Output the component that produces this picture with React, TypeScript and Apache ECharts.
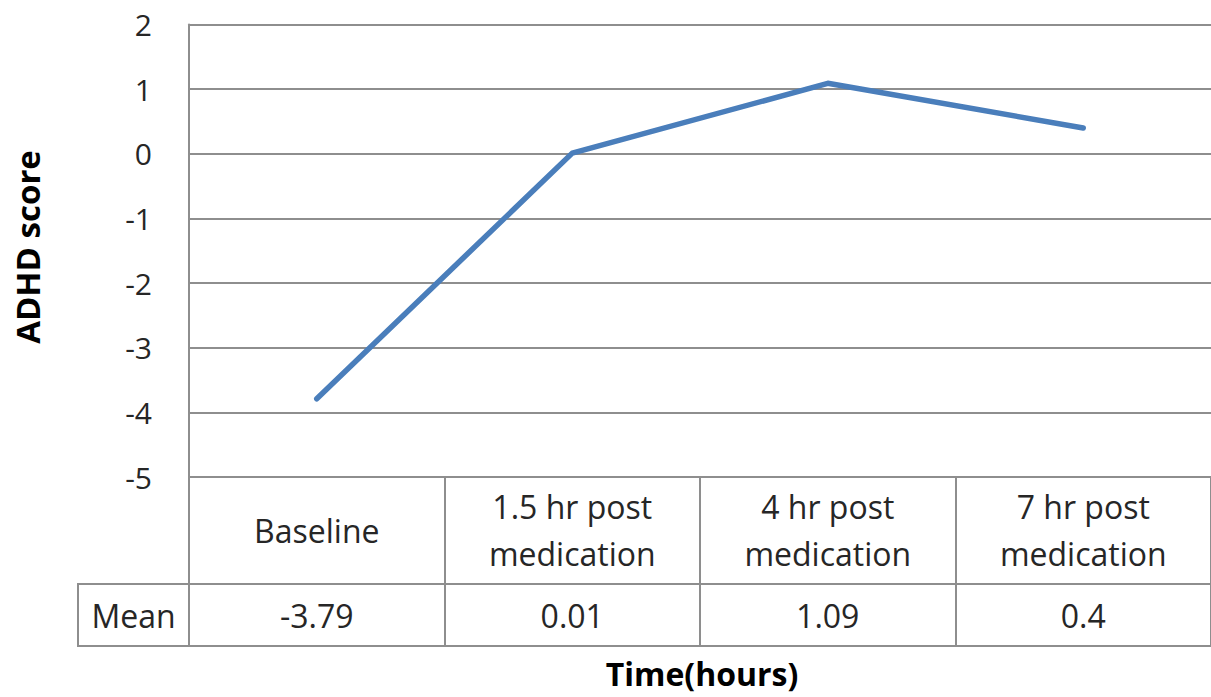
import React, { useEffect, useRef } from "react";
import * as echarts from "echarts";

const categories = ["Baseline", "1.5 hr post\nmedication", "4 hr post\nmedication", "7 hr post\nmedication"];
const meanValues = [-3.79, 0.01, 1.09, 0.4];
const meanLabels = ["-3.79", "0.01", "1.09", "0.4"];
const rowLabel = "Mean";
const yTitle = "ADHD score";
const xTitle = "Time(hours)";

const FONT = "'Open Sans', 'Liberation Sans', sans-serif";
const GRID_COLOR = "#8e8e8e";
const TEXT = "#262626";

export default function App() {
  const ref = useRef<HTMLDivElement>(null);
  useEffect(() => {
    if (!ref.current) return;
    const chart = echarts.init(ref.current, undefined, { renderer: "svg" });
    const lineStyle = { color: GRID_COLOR, width: 2 };
    chart.setOption({
      animation: false,
      backgroundColor: "#ffffff",
      textStyle: { fontFamily: FONT, color: TEXT },
      grid: { left: 189, right: 0, top: 24.5, bottom: 220, containLabel: false },
      xAxis: [
        {
          type: "category",
          data: categories,
          boundaryGap: true,
          axisLine: { show: true, onZero: false, lineStyle },
          axisTick: { show: true, interval: 0, length: 169, lineStyle },
          splitLine: { show: false },
          axisLabel: {
            interval: 0,
            margin: 53,
            fontSize: 32,
            lineHeight: 47,
            verticalAlign: "middle",
            color: TEXT,
            fontFamily: FONT,
          },
        },
        {
          type: "category",
          data: meanLabels,
          position: "bottom",
          offset: 107,
          boundaryGap: true,
          axisLine: { show: true, onZero: false, lineStyle },
          axisTick: { show: false },
          axisLabel: {
            interval: 0,
            margin: 31,
            fontSize: 32,
            verticalAlign: "middle",
            color: TEXT,
            fontFamily: FONT,
          },
        },
        {
          type: "category",
          data: meanLabels,
          position: "bottom",
          offset: 169,
          boundaryGap: true,
          axisLine: { show: true, onZero: false, lineStyle },
          axisTick: { show: false },
          axisLabel: { show: false },
        },
      ],
      yAxis: {
        type: "value",
        min: -5,
        max: 2,
        interval: 1,
        axisLine: { show: true, lineStyle },
        axisTick: { show: false },
        splitLine: { show: true, lineStyle },
        axisLabel: { fontSize: 30, margin: 37, color: TEXT, fontFamily: FONT },
      },
      series: [
        {
          type: "line",
          xAxisIndex: 0,
          data: meanValues,
          showSymbol: false,
          symbol: "none",
          lineStyle: { color: "#4a7ebb", width: 5.5, cap: "round", join: "round" },
        },
      ],
      graphic: [
        {
          type: "rect",
          shape: { x: 78, y: 584, width: 111, height: 62 },
          style: { fill: "none", stroke: GRID_COLOR, lineWidth: 2 },
        },
        {
          type: "text",
          x: 133.5,
          y: 615,
          style: {
            text: rowLabel,
            fontSize: 32,
            fontFamily: FONT,
            fill: TEXT,
            align: "center",
            verticalAlign: "middle",
          },
        },
        {
          type: "text",
          x: 27,
          y: 247,
          rotation: Math.PI / 2,
          style: {
            text: yTitle,
            fontSize: 33,
            fontWeight: "bold",
            fontFamily: FONT,
            fill: "#000",
            align: "center",
            verticalAlign: "middle",
          },
        },
        {
          type: "text",
          x: 702,
          y: 673,
          style: {
            text: xTitle,
            fontSize: 32,
            lineHeight: 36,
            fontWeight: "bold",
            fontFamily: FONT,
            fill: "#000",
            align: "center",
            verticalAlign: "middle",
          },
        },
      ],
    });
    return () => chart.dispose();
  }, []);
  return <div ref={ref} style={{ width: 1211, height: 697, position: "absolute", left: 0, top: 0 }} />;
}
